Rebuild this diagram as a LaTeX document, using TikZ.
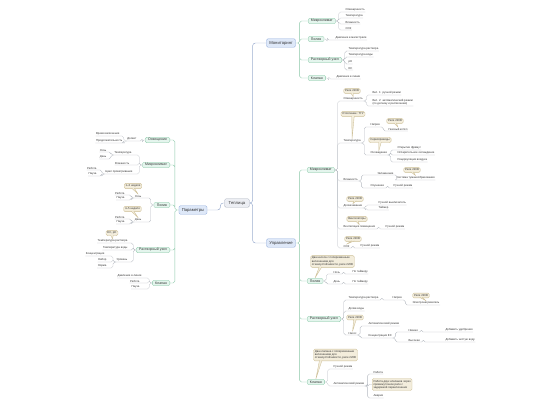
\documentclass[tikz,border=0pt]{standalone}
\usepackage{fontspec}
\setmainfont{Liberation Sans}
\usepackage{tikz}
\usetikzlibrary{positioning}
\definecolor{rootfill}{HTML}{ECEEF3}
\definecolor{rootline}{HTML}{A3ABBA}
\definecolor{mainfill}{HTML}{DEE8F8}
\definecolor{mainline}{HTML}{8FAADB}
\definecolor{subfill}{HTML}{E4F5ED}
\definecolor{subline}{HTML}{88C6A6}
\definecolor{notefill}{HTML}{F3EDDC}
\definecolor{noteline}{HTML}{CDBF97}
\definecolor{linkgrey}{HTML}{B4B9C0}
\definecolor{trunkblue}{HTML}{9DAFD0}
\definecolor{inkgrey}{HTML}{333333}
\newcommand{\Twig}[2]{\draw[link] (#1) -- ++(3,0) |- (#2.south west) -- (#2.south east);}
\newcommand{\LTwig}[2]{\draw[link] (#1) -- ++(-3,0) |- (#2.south east) -- (#2.south west);}
\newcommand{\Tail}[3][0pt]{\filldraw[tail] ([xshift=#1-1.8pt,yshift=1pt]#2.south) -- ([yshift=0.3pt]#3.north) -- ([xshift=#1+1.8pt,yshift=1pt]#2.south);}
\tikzset{
  rootbox/.style={draw=rootline, fill=rootfill, rounded corners=2pt, font=\fontsize{6}{7}\selectfont, text=inkgrey, inner xsep=6pt, minimum height=12pt},
  mainbox/.style={rootbox, draw=mainline, fill=mainfill, inner xsep=4pt},
  subbox/.style={rootbox, draw=subline, fill=subfill, font=\fontsize{5}{6}\selectfont, inner xsep=4pt, inner ysep=1pt, minimum height=8pt},
  leaf/.style={font=\fontsize{4}{4.6}\selectfont, text=inkgrey, inner xsep=0.6pt, inner ysep=0.9pt, align=left},
  note/.style={draw=noteline, fill=notefill, rounded corners=2pt, font=\fontsize{4}{4.6}\selectfont, text=inkgrey, inner sep=2pt, align=left, line width=0.5pt},
  tail/.style={draw=noteline, fill=notefill, line width=0.5pt, line join=round},
  link/.style={draw=linkgrey, line width=0.4pt, rounded corners=2.5pt},
  branch/.style={link, draw=subline, line width=0.55pt},
  trunk/.style={link, draw=trunkblue, line width=0.7pt, rounded corners=4pt},
}
\begin{document}
\begin{tikzpicture}[x=0.05cm, y=-0.05cm]
\useasboundingbox (0,0) rectangle (540,405);

% Root
\node[rootbox] (root) at (237,203) {Теплица};
\node[mainbox] (par) at (193,210) {Параметры};
\node[mainbox] (mon) at (281,43) {Мониторинг};
\node[mainbox] (upr) at (281,243) {Управление};
\draw[trunk] (root.east) -- ++(3,0) |- (mon.west) (root.east) -- ++(3,0) |- (upr.west)
  (root.west) -- ++(-4,0) |- (par.east);

% Monitoring
\node[subbox, anchor=west] (mMk) at (308,21) {Микроклимат};
\node[subbox, anchor=west] (mPl) at (308,39) {Полив};
\node[subbox, anchor=west] (mRu) at (308,60) {Растворный узел};
\node[subbox, anchor=west] (mKl) at (308,78) {Клапан};
\draw[branch] (mon.east) -- ++(4,0) |- (mMk.west) (mon.east) -- ++(4,0) |- (mPl.west)
  (mon.east) -- ++(4,0) |- (mRu.west) (mon.east) -- ++(4,0) |- (mKl.west);
\node[leaf, anchor=south west] (mMk1) at (345,12) {Освещённость};
\node[leaf, anchor=south west] (mMk2) at (345,18) {Температура};
\node[leaf, anchor=south west] (mMk3) at (345,24) {Влажность};
\node[leaf, anchor=south west] (mMk4) at (345,30) {CO2};
\node[leaf, anchor=south west] (mPl1) at (335,40) {Давление в магистрали};
\node[leaf, anchor=south west] (mRu1) at (348,51) {Температура раствора};
\node[leaf, anchor=south west] (mRu2) at (348,57) {Температура воды};
\node[leaf, anchor=south west] (mRu3) at (348,64) {pH};
\node[leaf, anchor=south west] (mRu4) at (348,70) {EC};
\node[leaf, anchor=south west] (mKl1) at (336,79) {Давление в линии};
\Twig{mMk.east}{mMk1} \Twig{mMk.east}{mMk2} \Twig{mMk.east}{mMk3} \Twig{mMk.east}{mMk4}
\Twig{mPl.east}{mPl1}
\Twig{mRu.east}{mRu1} \Twig{mRu.east}{mRu2} \Twig{mRu.east}{mRu3} \Twig{mRu.east}{mRu4}
\Twig{mKl.east}{mKl1}

% Control
\node[subbox, anchor=west] (uMk) at (307,170) {Микроклимат};
\node[subbox, anchor=west] (uPl) at (307,281) {Полив};
\node[subbox, anchor=west] (uRu) at (307,319) {Растворный узел};
\node[subbox, anchor=west] (uKl) at (307,382) {Клапан};
\draw[branch] (upr.east) -- ++(4,0) |- (uMk.west) (upr.east) -- ++(4,0) |- (uPl.west)
  (upr.east) -- ++(4,0) |- (uRu.west) (upr.east) -- ++(4,0) |- (uKl.west);

% Control: microclimate
\node[note] (n1) at (352,91) {Реле 220В};
\node[leaf, anchor=south west] (uMk1) at (343,101) {Освещённость};
\node[leaf, anchor=south west] (uMk11) at (372,95) {Вкл. 1: ручной режим};
\node[leaf, anchor=south west] (uMk12) at (372,106) {Вкл. 2: автоматический режим\\(по датчику и расписанию)};
\node[note] (n2) at (353,114) {Отопление: ТГУ};
\node[leaf, anchor=south west] (uMk2) at (343,143) {Температура};
\node[leaf, anchor=south west] (uMk21) at (370,127) {Нагрев};
\node[note] (n3) at (395,121) {Реле 220В};
\node[leaf, anchor=south west] (uMk211) at (388,131) {Газовый котёл};
\node[note] (n4) at (380,140) {Сервоприводы};
\node[leaf, anchor=south west] (uMk22) at (370,155) {Охлаждение};
\node[leaf, anchor=south west] (uMk221) at (397,150) {Открытие фрамуг};
\node[leaf, anchor=south west] (uMk222) at (397,155) {Испарительное охлаждение};
\node[leaf, anchor=south west] (uMk223) at (397,162) {Рециркуляция воздуха};
\node[leaf, anchor=south west] (uMk3) at (343,181) {Влажность};
\node[leaf, anchor=south west] (uMk31) at (377,175) {Увлажнение};
\node[note] (n5) at (412,170) {Реле 220В};
\node[leaf, anchor=south west] (uMk311) at (396,180) {Система туманообразования};
\node[leaf, anchor=south west] (uMk32) at (370,188) {Осушение};
\node[leaf, anchor=south west] (uMk321) at (393,188) {Ручной режим};
\node[note] (n6) at (355,199) {Реле 220В};
\node[leaf, anchor=south west] (uMk4) at (343,208) {Досвечивание};
\node[leaf, anchor=south west] (uMk41) at (378,205) {Ручной выключатель};
\node[leaf, anchor=south west] (uMk42) at (378,210) {Таймер};
\node[note] (n7) at (357,219) {Вентиляторы};
\node[leaf, anchor=south west] (uMk5) at (343,229) {Вентиляция помещения};
\node[leaf, anchor=south west] (uMk51) at (385,229) {Ручной режим};
\node[note] (n8) at (353,239) {Реле 220В};
\node[leaf, anchor=south west] (uMk6) at (343,248) {CO2};
\node[leaf, anchor=south west] (uMk61) at (360,248) {Ручной режим};
\Twig{uMk.east}{uMk1} \Twig{uMk.east}{uMk2} \Twig{uMk.east}{uMk3}
\Twig{uMk.east}{uMk4} \Twig{uMk.east}{uMk5} \Twig{uMk.east}{uMk6}
\Twig{uMk1.south east}{uMk11} \Twig{uMk1.south east}{uMk12}
\Twig{uMk2.south east}{uMk21} \Twig{uMk2.south east}{uMk22}
\Twig{uMk21.south east}{uMk211}
\Twig{uMk22.south east}{uMk221} \Twig{uMk22.south east}{uMk222} \Twig{uMk22.south east}{uMk223}
\Twig{uMk3.south east}{uMk31} \Twig{uMk3.south east}{uMk32}
\Twig{uMk31.south east}{uMk311} \Twig{uMk32.south east}{uMk321}
\Twig{uMk4.south east}{uMk41} \Twig{uMk4.south east}{uMk42}
\Twig{uMk5.south east}{uMk51} \Twig{uMk6.south east}{uMk61}
\Tail{n1}{uMk1} \Tail{n2}{uMk2} \Tail{n3}{uMk211} \Tail{n4}{uMk22}
\Tail{n5}{uMk311} \Tail{n6}{uMk4} \Tail{n7}{uMk5} \Tail{n8}{uMk6}

% Control: watering
\node[note] (n9) at (332.5,261.5) {Два насоса с попеременным\\включением для\\отказоустойчивости, реле 220В};
\node[leaf, anchor=south west] (uPl1) at (333,274) {Ночь};
\node[leaf, anchor=south west] (uPl11) at (352,274) {По таймеру};
\node[leaf, anchor=south west] (uPl2) at (333,284) {День};
\node[leaf, anchor=south west] (uPl21) at (352,284) {По таймеру};
\Twig{uPl.east}{uPl1} \Twig{uPl.east}{uPl2}
\Twig{uPl1.south east}{uPl11} \Twig{uPl2.south east}{uPl21}
\Tail[-17pt]{n9}{uPl}

% Control: solution unit
\node[leaf, anchor=south west] (uRu1) at (348,300) {Температура раствора};
\node[leaf, anchor=south west] (uRu11) at (392,300) {Нагрев};
\node[note] (n10) at (421,295.5) {Реле 220В};
\node[leaf, anchor=south west] (uRu111) at (412,305) {Электронагреватель};
\node[leaf, anchor=south west] (uRu2) at (348,311) {Долив воды};
\node[note] (n11) at (355,317.5) {Реле 220В};
\node[leaf, anchor=south west] (uRu3) at (348,335) {Насос};
\node[leaf, anchor=south west] (uRu31) at (368,326) {Автоматический режим};
\node[leaf, anchor=south west] (uRu32) at (368,338) {Концентрация EC};
\node[leaf, anchor=south west] (uRu321) at (408,332) {Низкая};
\node[leaf, anchor=south west] (uRu3211) at (445,332) {Добавить удобрения};
\node[leaf, anchor=south west] (uRu322) at (408,342) {Высокая};
\node[leaf, anchor=south west] (uRu3221) at (445,342) {Добавить чистую воду};
\Twig{uRu.east}{uRu1} \Twig{uRu.east}{uRu2} \Twig{uRu.east}{uRu3}
\Twig{uRu1.south east}{uRu11} \Twig{uRu11.south east}{uRu111}
\Twig{uRu3.south east}{uRu31} \Twig{uRu3.south east}{uRu32}
\Twig{uRu32.south east}{uRu321} \Twig{uRu32.south east}{uRu322}
\Twig{uRu321.south east}{uRu3211} \Twig{uRu322.south east}{uRu3221}
\Tail{n10}{uRu111} \Tail{n11}{uRu3}

% Control: valve
\node[note] (n12) at (335.5,355) {Два клапана с попеременным\\включением для\\отказоустойчивости, реле 220В};
\node[leaf, anchor=south west] (uKl1) at (333,369) {Ручной режим};
\node[leaf, anchor=south west] (uKl2) at (333,386) {Автоматический режим};
\node[leaf, anchor=south west] (uKl21) at (373,374) {Работа};
\node[note, anchor=west] (uKl22) at (372,384.5) {Работа двух клапанов через\\промежуточное реле с\\задержкой переключения};
\node[leaf, anchor=south west] (uKl23) at (373,398) {Авария};
\Twig{uKl.east}{uKl1} \Twig{uKl.east}{uKl2}
\Twig{uKl2.south east}{uKl21} \Twig{uKl2.south east}{uKl23}
\draw[link] (uKl2.south east) -- ++(3,0) |- (uKl22.west);
\Tail[-21pt]{n12}{uKl}

% Parameters
\node[subbox, anchor=east] (pOs) at (170,140) {Освещение};
\node[subbox, anchor=east] (pMk) at (170,165) {Микроклимат};
\node[subbox, anchor=east] (pPl) at (170,205) {Полив};
\node[subbox, anchor=east] (pRu) at (170,250) {Растворный узел};
\node[subbox, anchor=east] (pKl) at (170,283) {Клапан};
\draw[branch] (par.west) -- ++(-4,0) |- (pOs.east) (par.west) -- ++(-4,0) |- (pMk.east)
  (par.west) -- ++(-4,0) |- (pPl.east) (par.west) -- ++(-4,0) |- (pRu.east)
  (par.west) -- ++(-4,0) |- (pKl.east);
\node[leaf, anchor=south east] (pOs1) at (137,141) {Досвет};
\node[leaf, anchor=south east] (pOs11) at (120,136) {Время включения};
\node[leaf, anchor=south east] (pOs12) at (123,143) {Продолжительность};
\node[leaf, anchor=south east] (pMk1) at (132,155) {Температура};
\node[leaf, anchor=south east] (pMk11) at (107,152) {Ночь};
\node[leaf, anchor=south east] (pMk12) at (107,159) {День};
\node[leaf, anchor=south east] (pMk2) at (130,165) {Влажность};
\node[leaf, anchor=south east] (pMk3) at (133,174) {Цикл проветривания};
\node[leaf, anchor=south east] (pMk31) at (97,170) {Работа};
\node[leaf, anchor=south east] (pMk32) at (97,176) {Пауза};
\node[note] (n13) at (133,186) {1–3 неделя};
\node[leaf, anchor=south east] (pPl1) at (142,198) {Ночь};
\node[leaf, anchor=south east] (pPl11) at (125,195) {Работа};
\node[leaf, anchor=south east] (pPl12) at (125,200) {Пауза};
\node[note] (n14) at (132.5,209) {4–5 неделя};
\node[leaf, anchor=south east] (pPl2) at (142,222) {День};
\node[leaf, anchor=south east] (pPl21) at (125,219) {Работа};
\node[leaf, anchor=south east] (pPl22) at (125,224) {Пауза};
\node[note] (n15) at (112,233) {EC, pH};
\node[leaf, anchor=south east] (pRu1) at (128,243) {Температура раствора};
\node[leaf, anchor=south east] (pRu2) at (128,250) {Температура воды};
\node[leaf, anchor=south east] (pRu3) at (128,262) {Уровень};
\node[leaf, anchor=south east] (pRu31) at (105,256) {Концентрация};
\node[leaf, anchor=south east] (pRu32) at (107,262) {Набор};
\node[leaf, anchor=south east] (pRu33) at (107,268) {Норма};
\node[leaf, anchor=south east] (pKl1) at (142,278) {Давление в линии};
\node[leaf, anchor=south east] (pKl2) at (140,283) {Работа};
\node[leaf, anchor=south east] (pKl3) at (140,289) {Пауза};
\LTwig{pOs.west}{pOs1} \LTwig{pOs1.south west}{pOs11} \LTwig{pOs1.south west}{pOs12}
\LTwig{pMk.west}{pMk1} \LTwig{pMk.west}{pMk2} \LTwig{pMk.west}{pMk3}
\LTwig{pMk1.south west}{pMk11} \LTwig{pMk1.south west}{pMk12}
\LTwig{pMk3.south west}{pMk31} \LTwig{pMk3.south west}{pMk32}
\LTwig{pPl.west}{pPl1} \LTwig{pPl.west}{pPl2}
\LTwig{pPl1.south west}{pPl11} \LTwig{pPl1.south west}{pPl12}
\LTwig{pPl2.south west}{pPl21} \LTwig{pPl2.south west}{pPl22}
\LTwig{pRu.west}{pRu1} \LTwig{pRu.west}{pRu2} \LTwig{pRu.west}{pRu3}
\LTwig{pRu3.south west}{pRu31} \LTwig{pRu3.south west}{pRu32} \LTwig{pRu3.south west}{pRu33}
\LTwig{pKl.west}{pKl1} \LTwig{pKl.west}{pKl2} \LTwig{pKl.west}{pKl3}
\Tail{n13}{pPl1} \Tail{n14}{pPl2} \Tail{n15}{pRu1}
\end{tikzpicture}
\end{document}
